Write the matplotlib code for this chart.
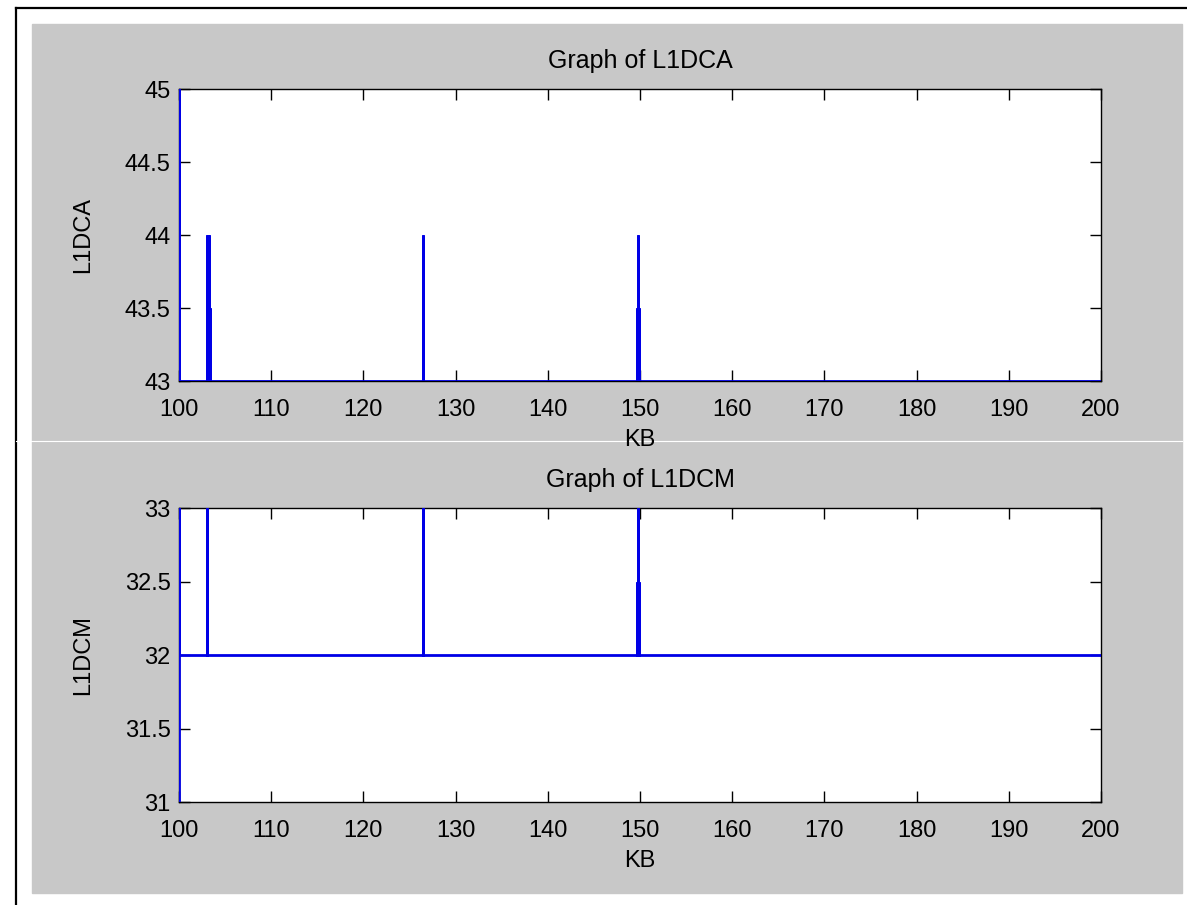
import matplotlib.pyplot as plt
import matplotlib as mpl
import numpy as np

# values
kb_start = 100.0
kb_end = 200.0

l1dca_base = 43.0
l1dca_first = [0.0, 90.0]          # first samples at kb 100 (off the scale)
l1dca_spike_kb = [103.0, 103.2, 103.3, 103.4, 126.5, 149.7, 149.8, 149.9]
l1dca_spike_val = [44.0, 44.0, 43.5, 43.5, 44.0, 43.5, 44.0, 43.5]

l1dcm_base = 32.0
l1dcm_first = [0.0, 90.0]
l1dcm_spike_kb = [103.0, 126.5, 149.7, 149.8, 149.9]
l1dcm_spike_val = [33.0, 33.0, 32.5, 33.0, 32.5]

x_ticks = [100, 110, 120, 130, 140, 150, 160, 170, 180, 190, 200]
a_ticks = [43, 43.5, 44, 44.5, 45]
a_labels = ['43', '43.5', '44', '44.5', '45']
m_ticks = [31, 31.5, 32, 32.5, 33]
m_labels = ['31', '31.5', '32', '32.5', '33']

W, H = 1187, 905
mpl.rcParams['font.family'] = ['Liberation Sans', 'DejaVu Sans']


def build_series(first, base, spike_kb, spike_val):
    """Series as MATLAB draws it: baseline with vertical spikes."""
    x = [kb_start] * len(first) + [kb_start]
    y = list(first) + [base]
    for k, v in zip(spike_kb, spike_val):
        x += [k, k, k]
        y += [base, v, base]
    x.append(kb_end)
    y.append(base)
    return np.array(x), np.array(y)


def fig_box(left, top, right, bottom):
    """pixel box -> figure fraction [l, b, w, h]"""
    return [left / W, 1 - bottom / H, (right - left) / W, (bottom - top) / H]


def plot_panel(ax, x, y, title, ylabel, ylim, yticks, ylabels):
    ax.set_facecolor('white')
    ax.plot(x, y, color='#0000e6', linewidth=2.0, zorder=3,
            solid_joinstyle='miter', solid_capstyle='butt')
    ax.set_xlim(kb_start, kb_end)
    ax.set_ylim(*ylim)
    ax.set_xticks(x_ticks)
    ax.set_yticks(yticks)
    ax.set_yticklabels(ylabels)
    ax.tick_params(direction='in', length=8, width=1, top=True, right=True,
                   labelsize=17, colors='black')
    ax.tick_params(axis='x', pad=13)
    ax.tick_params(axis='y', pad=6)
    for s in ax.spines.values():
        s.set_linewidth(1.0)
        s.set_color('black')
        s.set_zorder(2)
    ax.set_title(title, fontsize=18, pad=15)
    ax.set_xlabel('KB', fontsize=17, labelpad=6)
    ax.set_ylabel(ylabel, fontsize=17, labelpad=22)


fig = plt.figure(figsize=(W / 100, H / 100), dpi=100)
fig.patch.set_facecolor('white')

# grey figure area and the outer frame of the screenshot
fig.patches.append(mpl.patches.Rectangle((32 / W, 1 - 893 / H), 1150 / W, 869 / H,
                                         transform=fig.transFigure, color='#c8c8c8', zorder=-5))
fig.add_artist(mpl.lines.Line2D([16 / W, 16 / W], [0, 1 - 8 / H], transform=fig.transFigure,
                                color='black', linewidth=1.6, zorder=-4))
fig.add_artist(mpl.lines.Line2D([16 / W, 1], [1 - 8 / H, 1 - 8 / H], transform=fig.transFigure,
                                color='black', linewidth=1.6, zorder=-4))
fig.add_artist(mpl.lines.Line2D([16 / W, 1182 / W], [1 - 441 / H, 1 - 441 / H],
                                transform=fig.transFigure, color='white', linewidth=0.8, zorder=-4))

ax1 = fig.add_axes(fig_box(179, 89, 1101, 381))
ax2 = fig.add_axes(fig_box(179, 508, 1101, 802))

xa, ya = build_series(l1dca_first, l1dca_base, l1dca_spike_kb, l1dca_spike_val)
plot_panel(ax1, xa, ya, 'Graph of L1DCA', 'L1DCA', (43, 45), a_ticks, a_labels)

xm, ym = build_series(l1dcm_first, l1dcm_base, l1dcm_spike_kb, l1dcm_spike_val)
plot_panel(ax2, xm, ym, 'Graph of L1DCM', 'L1DCM', (31, 33), m_ticks, m_labels)

fig.savefig('out.png', dpi=100, facecolor=fig.get_facecolor())
